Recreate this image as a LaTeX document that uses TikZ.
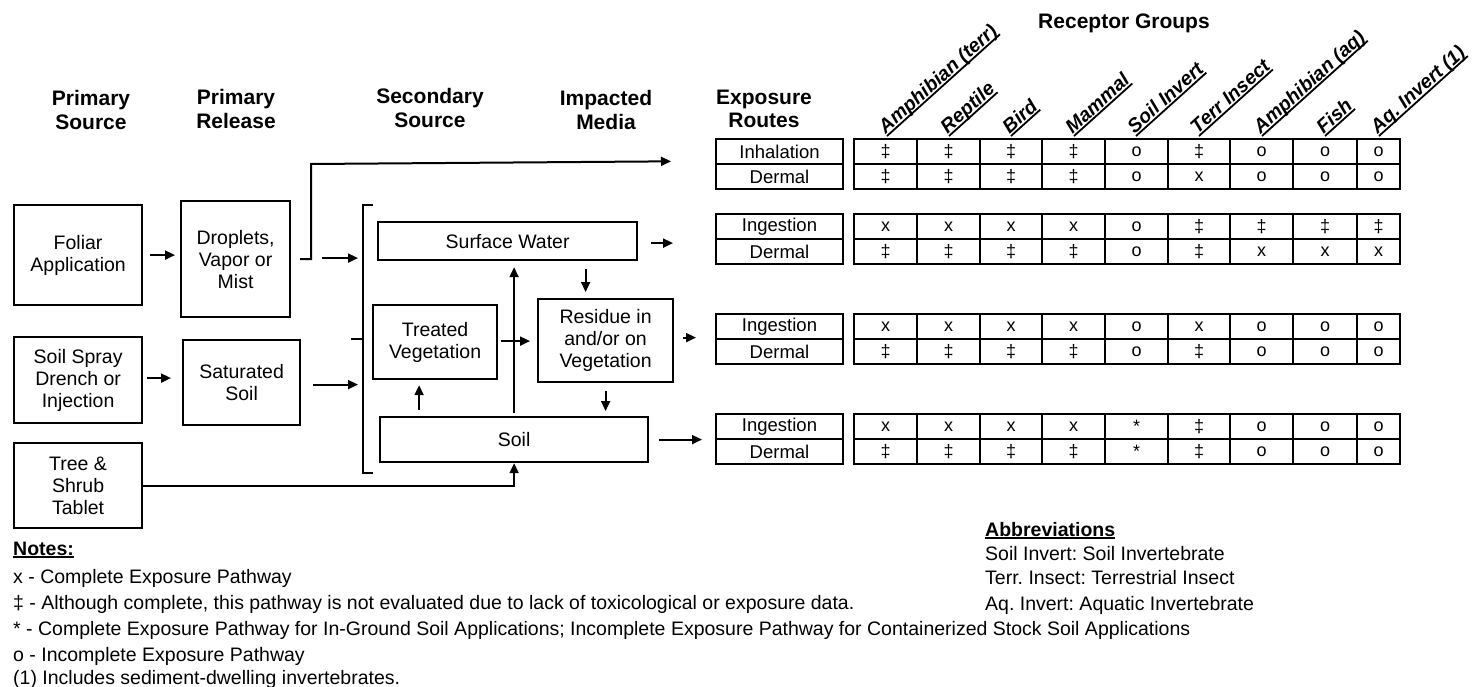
\documentclass[tikz,border=0pt]{standalone}
\usepackage{fontspec}
\setmainfont{Liberation Sans}
\usetikzlibrary{arrows.meta,calc}
\frenchspacing

% one block of the exposure table: two route cells and two rows of nine receptor cells
\newcommand\routegroup[6]{%
  \node[rcell, anchor=north west] (#1r1) at (716,#2) {#3};
  \node[rcell, anchor=north west] (#1r2) at (#1r1.south west) {#4};
  \foreach \v [count=\i from 0] in {#5} {
    \pgfmathsetmacro\xa{{854,917,980,1042,1105,1168,1230,1293,1357,1400}[\i]}
    \pgfmathsetmacro\xb{{854,917,980,1042,1105,1168,1230,1293,1357,1400}[\i+1]}
    \pgfmathsetmacro\w{\xb-\xa}
    \node[dcell, minimum width=\w pt, anchor=north west] (#1a\i) at (\xa,#2) {\v};
  }
  \foreach \v [count=\i from 0] in {#6} {
    \pgfmathsetmacro\xa{{854,917,980,1042,1105,1168,1230,1293,1357,1400}[\i]}
    \pgfmathsetmacro\xb{{854,917,980,1042,1105,1168,1230,1293,1357,1400}[\i+1]}
    \pgfmathsetmacro\w{\xb-\xa}
    \node[dcell, minimum width=\w pt, anchor=north west] (#1b\i) at (\xa,#2+25) {\v};
  }
  \draw[frame] (#1r1.north west) rectangle (#1r2.south east);
  \draw[frame] (#1a0.north west) rectangle (#1b8.south east);
}

\begin{document}
\begin{tikzpicture}[x=1pt,y=-1pt,
  box/.style={draw, line width=2.2pt, align=center, inner sep=0pt,
    font=\fontsize{19.5}{22}\selectfont},
  arr/.style={line width=2pt, -{Triangle[length=10pt,width=9pt]}},
  ln/.style={line width=2pt},
  hdr/.style={align=center, inner sep=0pt, font=\fontsize{21}{23.5}\selectfont\bfseries},
  rcell/.style={draw, line width=1.4pt, minimum width=127pt, minimum height=25pt,
    inner sep=0pt, outer sep=0pt, font=\fontsize{18.5}{18.5}\selectfont},
  dcell/.style={draw, line width=1.4pt, minimum height=25pt,
    inner sep=0pt, outer sep=0pt, font=\fontsize{18}{18}\selectfont},
  frame/.style={line width=2.2pt},
  ul/.style={inner xsep=0pt, inner ysep=2pt, text depth=0pt,
    append after command={(\tikzlastnode.south west) edge[draw, line width=1.8pt] (\tikzlastnode.south east)}},
  rlab/.style={ul, rotate=42, anchor=south west,
    font=\fontsize{19.5}{19.5}\selectfont\bfseries\itshape},
  note/.style={anchor=base west, inner sep=0pt, font=\fontsize{19.5}{19.5}\selectfont},
]
\useasboundingbox[fill=white] (0,0) rectangle (1478,687);

% column headings
\node[hdr] (hps) at (91,110) {Primary\\Source};
\node[hdr] (hpr) at (236,109) {Primary\\Release};
\node[hdr] (hss) at (430,108) {Secondary\\Source};
\node[hdr] (him) at (606,110) {Impacted\\Media};
\node[hdr] (her) at (764,109) {Exposure\\Routes};
\node[hdr, anchor=base] (hrg) at (1124,29) {Receptor Groups};

% source and release boxes
\node[box, minimum width=128pt, minimum height=100pt, anchor=north west] (foliar) at (13,204) {Foliar\\Application};
\node[box, minimum width=109pt, minimum height=116pt, anchor=north west] (drop) at (180,200) {Droplets,\\Vapor or\\Mist};
\node[box, minimum width=128pt, minimum height=86pt, anchor=north west] (spray) at (13,336) {Soil Spray\\Drench or\\Injection};
\node[box, minimum width=117pt, minimum height=85pt, anchor=north west] (sat) at (182,339) {Saturated\\Soil};
\node[box, minimum width=128pt, minimum height=85pt, anchor=north west] (tree) at (13,442) {Tree \&\\Shrub\\Tablet};

% secondary sources and impacted media
\node[box, minimum width=259pt, minimum height=38pt, anchor=north west] (sw) at (377,221) {Surface Water};
\node[box, minimum width=124pt, minimum height=74pt, anchor=north west] (tv) at (372,304) {Treated\\Vegetation};
\node[box, minimum width=135pt, minimum height=83pt, anchor=north west] (res) at (537,298) {Residue in\\and/or on\\Vegetation};
\node[box, minimum width=268pt, minimum height=45pt, anchor=north west] (soil) at (379,416) {Soil};

% bracket gathering the secondary sources
\coordinate (brk) at (363,339);
\coordinate (riser) at (311,0);
\draw[ln] (373,205) -- (363,205) -- (363,473) -- (373,473);
\draw[ln] (351,339) -- (brk);

% exposure table
\routegroup{ga}{139}{Inhalation}{Dermal}{‡,‡,‡,‡,o,‡,o,o,o}{‡,‡,‡,‡,o,x,o,o,o}
\routegroup{gb}{214}{Ingestion}{Dermal}{x,x,x,x,o,‡,‡,‡,‡}{‡,‡,‡,‡,o,‡,x,x,x}
\routegroup{gc}{314}{Ingestion}{Dermal}{x,x,x,x,o,x,o,o,o}{‡,‡,‡,‡,o,‡,o,o,o}
\routegroup{gd}{414}{Ingestion}{Dermal}{x,x,x,x,*,‡,o,o,o}{‡,‡,‡,‡,*,‡,o,o,o}

% receptor group labels
\foreach \t/\cx [count=\k] in {Amphibian (terr)/887, Reptile/949, Bird/1011,
    Mammal/1074, Soil Invert/1136, Terr Insect/1199, Amphibian (aq)/1262,
    Fish/1325, Aq. Invert (1)/1379}
  \node[rlab] (lab\k) at (\cx,136) {\t};

% connectors
\draw[arr, shorten <=7pt, shorten >=5pt] (foliar.east) -- (foliar.east -| drop.west);
\draw[arr, shorten <=4pt, shorten >=11pt] ([yshift=2pt]spray.east) -- ([yshift=2pt]spray.east -| sat.west);
\draw[arr, shorten <=9pt, shorten >=45pt] (drop.east) -- (drop.east -| riser) -- (riser |- gar1.south west) -- ([yshift=3pt]gar1.south west);
\draw[arr, shorten <=31pt, shorten >=5pt] ([yshift=1pt]drop.east) -- ([yshift=1pt]drop.east -| brk);
\draw[arr, shorten <=12pt, shorten >=5pt] ([yshift=-2pt]sat.east) -- ([yshift=-2pt]sat.east -| brk);
\draw[arr, shorten <=8pt, shorten >=6pt] ([xshift=-20pt]res.north |- sw.south) -- ([xshift=-20pt]res.north);
\draw[arr, shorten <=8pt, shorten >=5pt] (res.south) -- (res.south |- soil.north);
\draw[arr, shorten <=6pt, shorten >=5pt] ([xshift=-16pt]tv.south |- soil.north) -- ([xshift=-16pt]tv.south);
\draw[arr, shorten <=3pt, shorten >=6pt] (soil.north) -- (soil.north |- sw.south);
\draw[arr, shorten <=3pt, shorten >=7pt] ([yshift=1pt]tv.east) -- ([yshift=1pt]tv.east -| res.west);
\draw[arr] (tree.east) -| (soil.south);
\draw[arr, shorten <=13pt, shorten >=43pt] ([yshift=-2pt]sw.east) -- ([yshift=-2pt]sw.east -| gbr1.west);
\draw[arr, shorten <=9pt, shorten >=20pt] ([yshift=3pt]res.east) -- ([yshift=3pt]res.east -| gcr1.west);
\draw[arr, shorten <=10pt, shorten >=14pt] (soil.east) -- (soil.east -| gdr1.west);

% notes
\node[note, ul, font=\fontsize{19.5}{19.5}\selectfont\bfseries] (notes) at (13,555) {Notes:};
\node[note] (n1) at (13,583) {x - Complete Exposure Pathway};
\node[note] (n2) at (13,609) {‡ - Although complete, this pathway is not evaluated due to lack of toxicological or exposure data.};
\node[note] (n3) at (13,635) {* - Complete Exposure Pathway for In-Ground Soil Applications; Incomplete Exposure Pathway for Containerized Stock Soil Applications};
\node[note] (n4) at (13,661) {o - Incomplete Exposure Pathway};
\node[note] (n5) at (13,684) {(1) Includes sediment-dwelling invertebrates.};

% abbreviations
\node[note, ul, font=\fontsize{19.5}{19.5}\selectfont\bfseries] (abbr) at (985,536) {Abbreviations};
\node[note] (a1) at (985,560) {Soil Invert: Soil Invertebrate};
\node[note] (a2) at (985,584) {Terr. Insect: Terrestrial Insect};
\node[note] (a3) at (985,610) {Aq. Invert: Aquatic Invertebrate};
\end{tikzpicture}
\end{document}
